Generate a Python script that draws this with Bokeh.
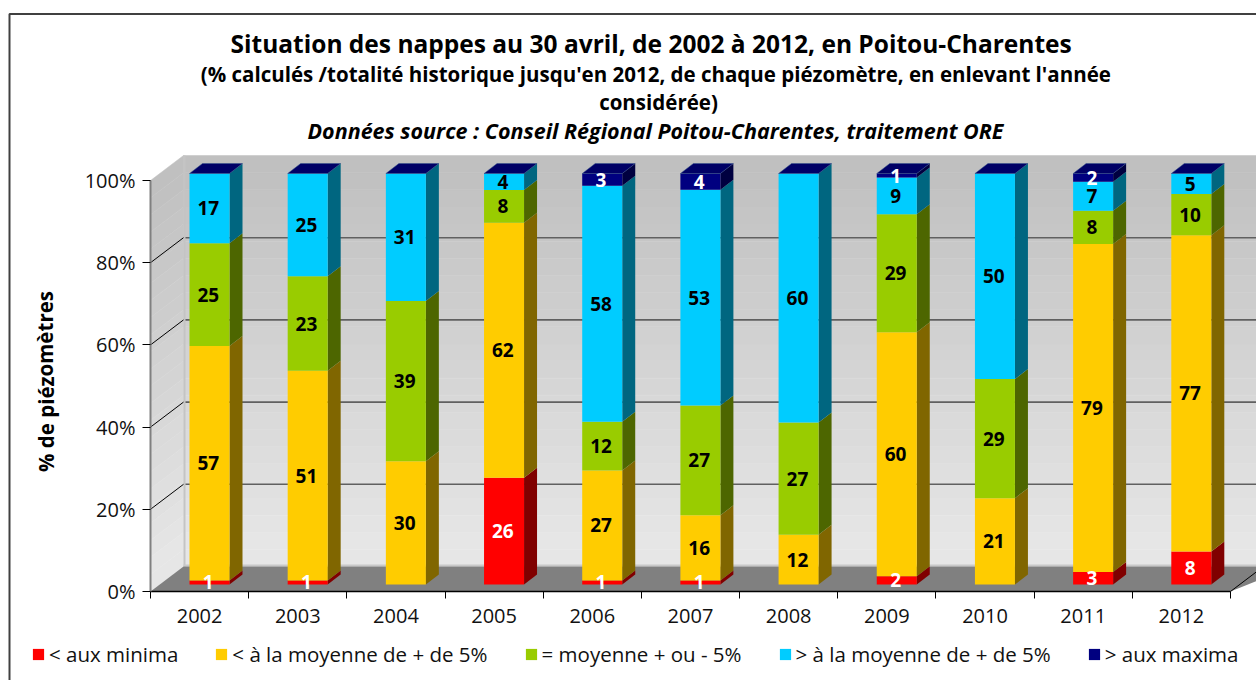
from bokeh.plotting import figure
from bokeh.models import (BoxAnnotation, ColumnDataSource, FixedTicker, Label, Legend, LegendItem,
                          LinearAxis, PrintfTickFormatter, Range1d)
from bokeh.core.properties import value
from bokeh.embed import file_html
from bokeh.resources import INLINE

years = ["2002","2003","2004","2005","2006","2007","2008","2009","2010","2011","2012"]
minima = [1,1,0,26,1,1,0,2,0,3,8]
inf5   = [57,51,30,62,27,16,12,60,21,79,77]
moy    = [25,23,39,8,12,27,27,29,29,8,10]
sup5   = [17,25,31,4,58,53,60,9,50,7,5]
maxima = [0,0,0,0,3,4,0,1,0,2,0]
names = ["< aux minima","< à la moyenne de + de 5%","= moyenne + ou - 5%","> à la moyenne de + de 5%","> aux maxima"]
series = [minima, inf5, moy, sup5, maxima]
front = ["#FF0000","#FFCC00","#99CC00","#00CCFF","#000080"]
side  = ["#800000","#806600","#4D6600","#006680","#000040"]
top_c = "#000066"
lab_c = ["white","black","black","black","white"]

# layout constants (px -> data)
PXX = 98.18; PXY = 4.11
X0 = 150; Y0 = 591
W = 1256; H = 680
def dx(px): return (px - X0) / PXX
def dy(py): return (Y0 - py) / PXY

FONT = "Open Sans"
p = figure(width=W, height=H, output_backend="svg", toolbar_location=None,
           frame_width=W, frame_height=H,
           min_border_left=0, min_border_right=0, min_border_top=0, min_border_bottom=0,
           x_range=Range1d(dx(0), dx(W)), y_range=Range1d(dy(H), dy(0)),
           x_axis_type=None, y_axis_type=None)
p.grid.visible = False
p.outline_line_color = None
p.background_fill_color = "white"
p.border_fill_color = "white"

# oblique projection
wall_dx = 33 / PXX; wall_dy = 25 / PXY
bar_dx = 13 / PXX; bar_dy = 10 / PXY
bar_left = 39 / PXX; bar_w = 40 / PXX
bar_base = 7 / PXY
xend = 11.3

# back wall gradient and left wall
n = 24
for i in range(n):
    c0 = int(0xC0 + (0xE6 - 0xC0) * min(1, (i / (n - 1)) * 1.05))
    col = "#%02x%02x%02x" % (c0, c0, c0)
    b = i / n; t = (i + 1) / n
    yb = 100 - 100 * t; yt = 100 - 100 * b
    p.quad(left=wall_dx, right=xend + wall_dx, bottom=yb + wall_dy, top=yt + wall_dy, fill_color=col, line_color=col, line_width=0.5)
    p.patch([0, wall_dx, wall_dx, 0], [yb, yb + wall_dy, yt + wall_dy, yt], fill_color=col, line_color=col, line_width=0.5)
# wall inner band
p.quad(left=wall_dx, right=wall_dx + 2 / PXX, bottom=wall_dy, top=100 + wall_dy, fill_color="#c4c4c4", line_color=None)
# floor
p.quad(left=wall_dx, right=xend + wall_dx, bottom=wall_dy, top=wall_dy + 2 / PXY, fill_color="#c8c8c8", line_color=None)
p.patch([0, wall_dx, xend + wall_dx, 11], [0, wall_dy, wall_dy, 0], fill_color="#808080", line_color=None)
p.line([11, 11 + wall_dx], [0, wall_dy], line_color="black", line_width=1)

# gridlines
for g in [20, 40, 60, 80]:
    p.line([wall_dx + 2 / PXX, xend + wall_dx], [g + wall_dy, g + wall_dy], line_color="#606060", line_width=1.6)
    p.line([0, wall_dx], [g, g + wall_dy], line_color="black", line_width=1)

# stacked bars
renderers = []
labels = {"x": [], "y": [], "t": [], "c": []}
for k, vals in enumerate(series):
    ls, rs, bs, ts = [], [], [], []
    sx, sy = [], []
    for i in range(len(years)):
        tot = sum(s[i] for s in series)
        low = sum(s[i] for s in series[:k]) * 100 / tot
        high = low + vals[i] * 100 / tot
        l = i + bar_left; r = l + bar_w
        b = low + bar_base; t = high + bar_base
        ls.append(l); rs.append(r); bs.append(b); ts.append(t)
        sx.append([r, r + bar_dx, r + bar_dx, r])
        sy.append([b, b + bar_dy, t + bar_dy, t])
        if vals[i] > 0:
            labels["x"].append((l + r) / 2 - 1.2 / PXX)
            labels["y"].append((b + t) / 2)
            labels["t"].append(str(vals[i]))
            labels["c"].append(lab_c[k])
    p.patches(sx, sy, fill_color=side[k], line_color=None)
    rn = p.quad(left=ls, right=rs, bottom=bs, top=ts, fill_color=front[k], line_color=None)
    renderers.append(rn)

tx, ty = [], []
for i in range(len(years)):
    l = i + bar_left; r = l + bar_w; t = 100 + bar_base
    tx.append([l, l + bar_dx, r + bar_dx, r])
    ty.append([t, t + bar_dy, t + bar_dy, t])
p.patches(tx, ty, fill_color=top_c, line_color="#30508a", line_width=0.5)

p.text(x="x", y="y", text="t", text_color="c", source=ColumnDataSource(labels),
       text_font=value(FONT), text_font_style="bold", text_font_size="19px",
       text_align="center", text_baseline="middle")

# axes
yax = LinearAxis(ticker=FixedTicker(ticks=[0, 20, 40, 60, 80, 100]), formatter=PrintfTickFormatter(format="%d%%"),
                 bounds=(0, 100), fixed_location=0)
yax.axis_line_color = "#808080"; yax.axis_line_width = 2
yax.major_tick_line_color = "black"; yax.major_tick_out = 8; yax.major_tick_in = 0
yax.minor_tick_line_color = None
yax.major_label_text_font = FONT; yax.major_label_text_font_size = "20px"; yax.major_label_text_color = "#111111"
yax.major_label_standoff = 7
p.add_layout(yax, "left")

xax = LinearAxis(ticker=FixedTicker(ticks=[i + 0.5 for i in range(11)], minor_ticks=list(range(12))),
                 major_label_overrides={i + 0.5: y for i, y in enumerate(years)}, bounds=(0, 11), fixed_location=0)
xax.axis_line_color = "black"; xax.axis_line_width = 1.5
xax.major_tick_line_color = None; xax.major_tick_out = 0; xax.major_tick_in = 0
xax.minor_tick_line_color = "black"; xax.minor_tick_out = 7; xax.minor_tick_in = 0
xax.major_label_text_font = FONT; xax.major_label_text_font_size = "20px"; xax.major_label_text_color = "#111111"
xax.major_label_standoff = 10
p.add_layout(xax, "below")

# frame
p.add_layout(BoxAnnotation(left=dx(9), right=dx(1400), top=dy(13.5), bottom=dy(800), fill_alpha=0,
                           line_color="#404040", line_alpha=1, line_width=2))

# texts
def txt(s, px, py, size, style="bold", angle=0):
    p.add_layout(Label(x=dx(px), y=dy(py), text=s, text_font=FONT, text_font_size=size, text_font_style=style,
                       text_align="center", text_baseline="middle", text_color="black", angle=angle))

txt("Situation des nappes au 30 avril, de 2002  à  2012, en Poitou-Charentes", 657, 43, "24.5px")
txt("(% calculés /totalité historique jusqu'en 2012, de chaque piézomètre,  en enlevant l'année", 658, 73, "20.5px")
txt("considérée)", 658, 101, "20.5px")
txt("Données source : Conseil Régional Poitou-Charentes, traitement ORE", 655, 130, "21.5px", "bold italic")
txt("% de piézomètres", 45, 381, "20.5px", "bold", 1.5708)

# legend
legend = Legend(items=[LegendItem(label=names[k], renderers=[renderers[k]]) for k in range(5)],
                orientation="horizontal", location=(31, H - 668),
                spacing=36, padding=0, margin=0, border_line_color=None, background_fill_alpha=0,
                glyph_width=14, glyph_height=14, label_standoff=4, label_text_font=FONT,
                label_text_font_size="20.5px", label_text_color="#111111")
p.add_layout(legend)

open("out.html", "w").write(file_html(p, INLINE))
